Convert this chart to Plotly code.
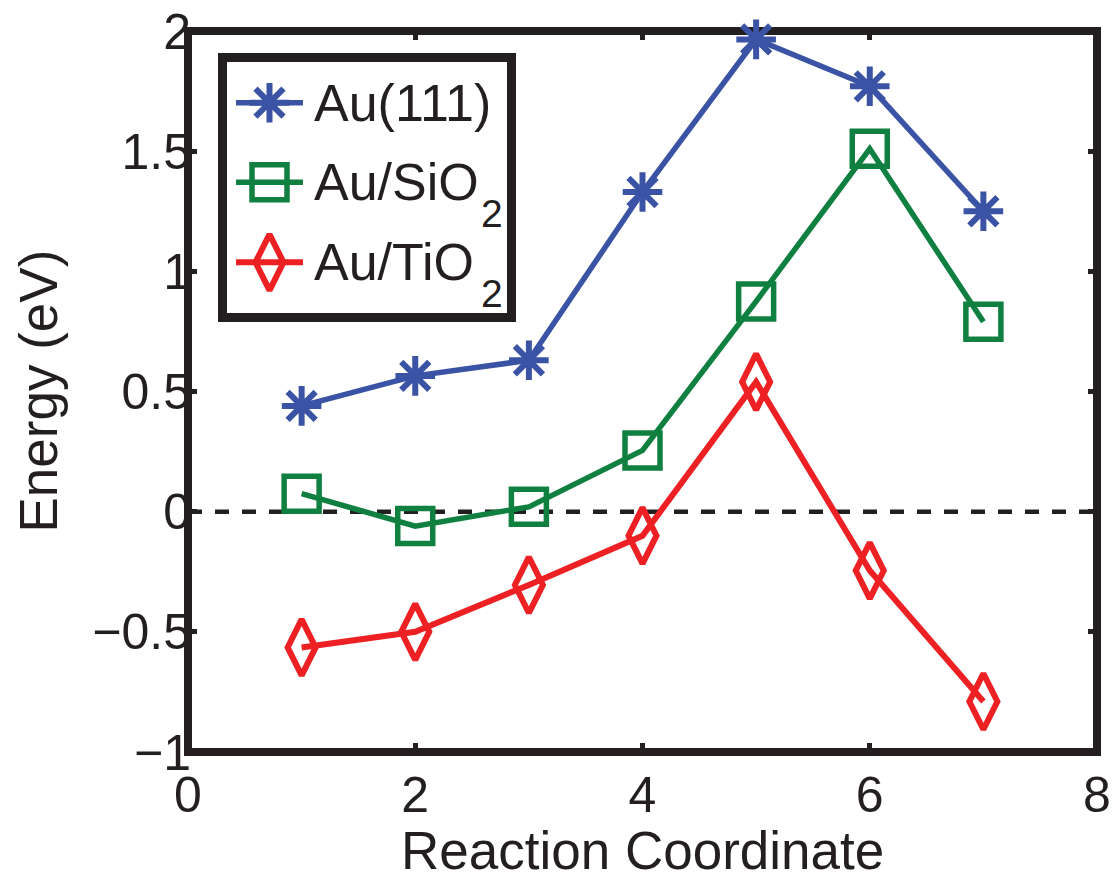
import plotly.graph_objects as go

# Reaction coordinate (image index along the path)
steps = [1, 2, 3, 4, 5, 6, 7]

# Relative energies (eV) along the path for each surface
energy_au111 = [0.44, 0.565, 0.63, 1.33, 1.965, 1.77, 1.25]
energy_au_sio2 = [0.075, -0.06, 0.02, 0.255, 0.875, 1.51, 0.79]
energy_au_tio2 = [-0.565, -0.50, -0.305, -0.10, 0.54, -0.245, -0.79]

# Legend labels: main text plus a subscript part
series_names = ["Au(111)", "Au/SiO", "Au/TiO"]
series_subscripts = ["", "2", "2"]

x_ticks = [0, 2, 4, 6, 8]
y_ticks = [-1, -0.5, 0, 0.5, 1, 1.5, 2]

BLUE = "rgb(58,83,164)"
GREEN = "rgb(16,128,64)"
RED = "rgb(237,32,36)"
INK = "#231f20"
FONT = "Liberation Sans, Arial, Helvetica, sans-serif"

W, H = 1114, 879
PL, PR, PT, PB = 188, 1097, 31, 752   # plot-area edges in pixels

styles = [
    dict(color=BLUE, symbol="asterisk-open", size=33, lw=5.5, mlw=6),
    dict(color=GREEN, symbol="square-open", size=35, lw=5.5, mlw=5.5),
    dict(color=RED, symbol="diamond-tall-open", size=40, lw=6, mlw=6),
]
series = [energy_au111, energy_au_sio2, energy_au_tio2]

fig = go.Figure()

for name, sub, ys, st in zip(series_names, series_subscripts, series, styles):
    full_name = name + (f"<sub>{sub}</sub>" if sub else "")
    fig.add_trace(go.Scatter(
        x=steps, y=ys, name=full_name, mode="lines+markers",
        line=dict(color=st["color"], width=st["lw"]),
        marker=dict(symbol=st["symbol"], size=st["size"], color=st["color"],
                    line=dict(color=st["color"], width=st["mlw"])),
        cliponaxis=False, showlegend=False,
    ))

# Legend key: an overlay axis pair measured in pixels
LEG_BOX = (222.5, 57.5, 511.5, 317.5)
LEG_LINE_X = (236, 303)
LEG_ROWS_Y = [102.7, 182.3, 262.3]
LEG_TEXT_X = 312
LEG_SUB_X = 479
LEG_SUB_DROP = 31   # subscript centre below the row centre

for name, sub, st, yrow in zip(series_names, series_subscripts, styles, LEG_ROWS_Y):
    fig.add_trace(go.Scatter(
        x=list(LEG_LINE_X), y=[yrow, yrow], mode="lines",
        line=dict(color=st["color"], width=st["lw"]),
        xaxis="x2", yaxis="y2", showlegend=False, hoverinfo="skip",
    ))
    fig.add_trace(go.Scatter(
        x=[sum(LEG_LINE_X) / 2], y=[yrow], mode="markers",
        marker=dict(symbol=st["symbol"], size=st["size"], color=st["color"],
                    line=dict(color=st["color"], width=st["mlw"])),
        xaxis="x2", yaxis="y2", showlegend=False, hoverinfo="skip",
        cliponaxis=False,
    ))
    fig.add_annotation(
        x=LEG_TEXT_X, y=yrow, xref="x2", yref="y2", text=name,
        xanchor="left", yanchor="middle", showarrow=False,
        font=dict(family=FONT, size=52, color=INK),
    )
    if sub:
        fig.add_annotation(
            x=LEG_SUB_X, y=yrow + LEG_SUB_DROP, xref="x2", yref="y2", text=sub,
            xanchor="left", yanchor="middle", showarrow=False,
            font=dict(family=FONT, size=39, color=INK),
        )

shapes = [
    # axes frame
    dict(type="rect", xref="paper", yref="paper", x0=0, x1=1, y0=0, y1=1,
         line=dict(color=INK, width=8), layer="below"),
    # zero reference
    dict(type="line", xref="paper", yref="y", x0=0, x1=1, y0=0, y1=0,
         line=dict(color=INK, width=4.5, dash="14px,13px"), layer="below"),
    # legend box
    dict(type="rect", xref="x2", yref="y2",
         x0=LEG_BOX[0], y0=LEG_BOX[1], x1=LEG_BOX[2], y1=LEG_BOX[3],
         line=dict(color=INK, width=9), fillcolor="white", layer="below"),
]

tick_common = dict(
    ticks="inside", ticklen=9, tickwidth=5, tickcolor=INK, mirror="ticks",
    showline=False, showgrid=False, zeroline=False,
    tickfont=dict(family=FONT, size=50, color=INK),
)

fig.update_layout(
    width=W, height=H,
    margin=dict(l=PL, r=W - PR, t=PT, b=H - PB, autoexpand=False),
    paper_bgcolor="white", plot_bgcolor="rgba(0,0,0,0)",
    showlegend=False,
    xaxis=dict(range=[0, 8], tickvals=x_ticks, ticklabelstandoff=9, **tick_common),
    yaxis=dict(range=[-1, 2], tickvals=y_ticks, ticklabelstandoff=-4, **tick_common),
    xaxis2=dict(range=[PL, PR], domain=[0, 1], anchor="y2", overlaying="x",
                visible=False, fixedrange=True),
    yaxis2=dict(range=[PB, PT], domain=[0, 1], anchor="x2", overlaying="y",
                visible=False, fixedrange=True),
    shapes=shapes,
)

fig.add_annotation(
    x=0.5, y=-(850 - PB) / (PB - PT), xref="paper", yref="paper",
    text="Reaction Coordinate", showarrow=False,
    xanchor="center", yanchor="middle",
    font=dict(family=FONT, size=53, color=INK),
)
fig.add_annotation(
    x=(38 - PL) / (PR - PL), y=0.5, xref="paper", yref="paper",
    text="Energy (eV)", textangle=-90, showarrow=False,
    xanchor="center", yanchor="middle",
    font=dict(family=FONT, size=53, color=INK),
)

fig.write_html("out.html")
